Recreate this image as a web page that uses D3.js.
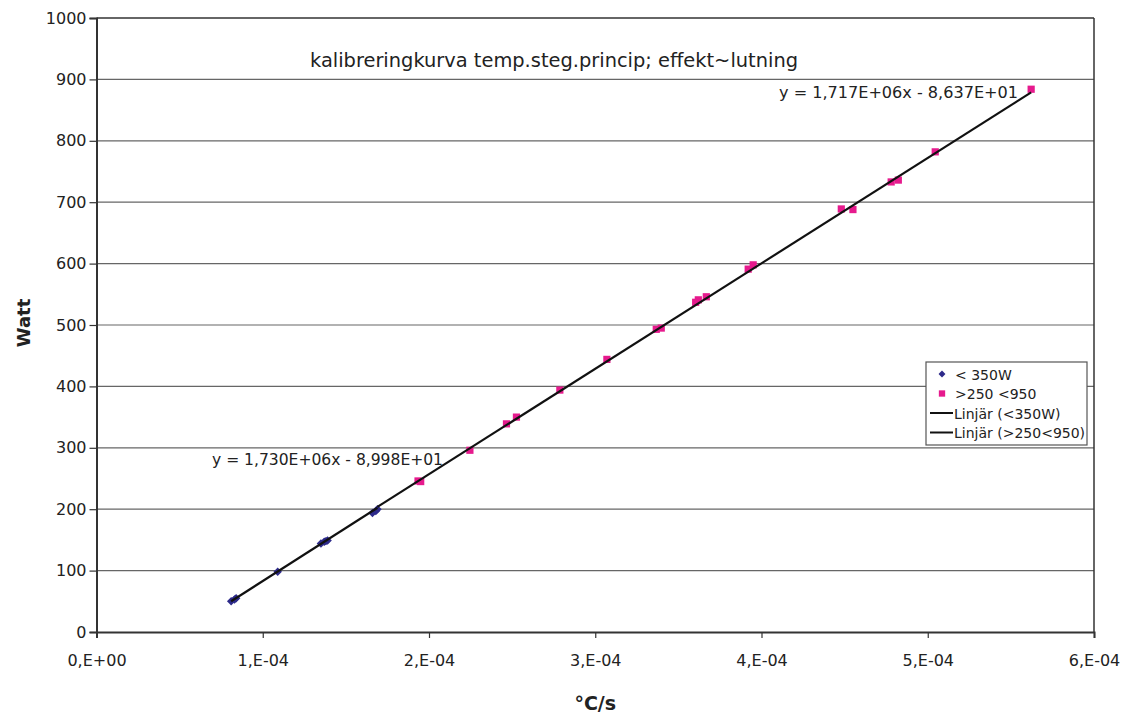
<!DOCTYPE html>
<html><head><meta charset="utf-8">
<script src="https://cdn.jsdelivr.net/npm/d3@7"></script>
<style>body{margin:0;background:#fff}svg{display:block}text{font-family:"DejaVu Sans","Liberation Sans",Arial,sans-serif;fill:#222}</style>
</head><body><svg id="c" width="1122" height="716"></svg>
<script>
// Data (x in °C/s, y in Watt)
const lowX = [0.81e-4, 0.83e-4, 0.84e-4, 1.09e-4, 1.35e-4, 1.37e-4, 1.38e-4, 1.39e-4, 1.66e-4, 1.68e-4, 1.69e-4];
const lowY = [50, 53, 55, 98, 144, 147, 148, 149, 194, 197, 200];
const highX = [1.934e-4, 1.95e-4, 2.246e-4, 2.466e-4, 2.526e-4, 2.787e-4, 3.07e-4, 3.367e-4, 3.397e-4, 3.604e-4, 3.62e-4, 3.668e-4, 3.92e-4, 3.95e-4, 4.48e-4, 4.55e-4, 4.78e-4, 4.823e-4, 5.045e-4, 5.622e-4];
const highY = [246, 245, 296, 339, 350, 394, 444, 493, 495, 537, 541, 546, 591, 598, 689, 688, 733, 736, 782, 884];
const fitLow = {a: 1.730e6, b: -89.98};
const fitHigh = {a: 1.717e6, b: -86.37};
const xTicks = [0, 1e-4, 2e-4, 3e-4, 4e-4, 5e-4, 6e-4];
const xTickLabels = ["0,E+00", "1,E-04", "2,E-04", "3,E-04", "4,E-04", "5,E-04", "6,E-04"];
const yTicks = [0, 100, 200, 300, 400, 500, 600, 700, 800, 900, 1000];
const legendLabels = ["< 350W", ">250 <950", "Linjär (<350W)", "Linjär (>250<950)"];

const svg = d3.select("#c");
const L = 96.5, R = 1094, T = 18, B = 632;
const x = d3.scaleLinear().domain([0, 6e-4]).range([L, R]);
const y = d3.scaleLinear().domain([0, 1000]).range([B, T]);

// gridlines
svg.append("g").selectAll("line").data(yTicks.slice(1, -1)).join("line")
  .attr("x1", L).attr("x2", R).attr("y1", d => y(d)).attr("y2", d => y(d))
  .attr("stroke", "#666").attr("stroke-width", 1.2);

// axes
const xa = svg.append("g").attr("transform", `translate(0,${B})`)
  .call(d3.axisBottom(x).tickValues(xTicks).tickFormat((d, i) => xTickLabels[i]).tickSize(6).tickPadding(17));
const ya = svg.append("g").attr("transform", `translate(${L},0)`)
  .call(d3.axisLeft(y).tickValues(yTicks).tickFormat(d3.format("d")).tickSize(7).tickPadding(3));
[xa, ya].forEach(g => {
  g.attr("font-family", null);
  g.select(".domain").attr("stroke", "#333").attr("stroke-width", 2);
  g.selectAll(".tick line").attr("stroke", "#333").attr("stroke-width", 1.2);
  g.selectAll(".tick text").attr("font-size", 16).attr("fill", "#222");
});
// top and right border
svg.append("line").attr("x1", L).attr("x2", R).attr("y1", T).attr("y2", T).attr("stroke", "#333").attr("stroke-width", 1.5);
svg.append("line").attr("x1", R).attr("x2", R).attr("y1", T).attr("y2", B).attr("stroke", "#333").attr("stroke-width", 1.5);

// points
const low = lowX.map((v, i) => [v, lowY[i]]);
const high = highX.map((v, i) => [v, highY[i]]);
const blue = "#2d2a8a", pink = "#e61a8d";
svg.append("g").selectAll("path").data(high).join("path")
  .attr("d", d3.symbol(d3.symbolSquare, 52))
  .attr("transform", d => `translate(${x(d[0])},${y(d[1])})`).attr("fill", pink);
svg.append("g").selectAll("path").data(low).join("path")
  .attr("d", d3.symbol(d3.symbolSquare, 36))
  .attr("transform", d => `translate(${x(d[0])},${y(d[1])}) rotate(45)`).attr("fill", blue);

// trendlines
const line = d3.line().x(d => x(d[0])).y(d => y(d[1]));
const lx0 = d3.min(lowX), lx1 = d3.max(lowX), hx1 = d3.max(highX);
svg.append("path").attr("d", line([[lx0, fitLow.a * lx0 + fitLow.b], [lx1, fitLow.a * lx1 + fitLow.b]]))
  .attr("stroke", "#111").attr("stroke-width", 2.2).attr("fill", "none");
svg.append("path").attr("d", line([[lx1, fitHigh.a * lx1 + fitHigh.b], [hx1, fitHigh.a * hx1 + fitHigh.b]]))
  .attr("stroke", "#111").attr("stroke-width", 2.2).attr("fill", "none");

// equations
svg.append("text").attr("x", 212).attr("y", 465).attr("font-size", 16)
  .attr("textLength", 231).attr("lengthAdjust", "spacingAndGlyphs").text("y = 1,730E+06x - 8,998E+01");
svg.append("text").attr("x", 779).attr("y", 98).attr("font-size", 16)
  .attr("textLength", 239).attr("lengthAdjust", "spacingAndGlyphs").text("y = 1,717E+06x - 8,637E+01");

// title
svg.append("text").attr("x", 310).attr("y", 67).attr("font-size", 19)
  .attr("textLength", 488).attr("lengthAdjust", "spacingAndGlyphs")
  .text("kalibreringkurva temp.steg.princip; effekt~lutning");

// axis titles
svg.append("text").attr("x", (L + R) / 2).attr("y", 710).attr("text-anchor", "middle")
  .attr("font-size", 19).attr("font-weight", "bold").text("°C/s");
svg.append("text").attr("transform", `translate(30,${(T + B) / 2 - 2}) rotate(-90)`).attr("text-anchor", "middle")
  .attr("font-size", 18).attr("font-weight", "bold").text("Watt");

// legend
const lg = svg.append("g").attr("transform", "translate(926,362)");
lg.append("rect").attr("width", 161).attr("height", 83).attr("fill", "#fff").attr("stroke", "#555").attr("stroke-width", 1.2);
legendLabels.forEach((t, i) => {
  const cy = 12 + i * 19.5;
  if (i === 0) lg.append("path").attr("d", d3.symbol(d3.symbolSquare, 24)).attr("transform", `translate(16,${cy}) rotate(45)`).attr("fill", blue);
  else if (i === 1) lg.append("path").attr("d", d3.symbol(d3.symbolSquare, 40)).attr("transform", `translate(16,${cy})`).attr("fill", pink);
  else lg.append("line").attr("x1", 4).attr("x2", 27).attr("y1", cy).attr("y2", cy).attr("stroke", "#111").attr("stroke-width", 2);
  lg.append("text").attr("x", i < 2 ? 29 : 28).attr("y", cy + 5.5).attr("font-size", 14).text(t);
});
</script></body></html>
